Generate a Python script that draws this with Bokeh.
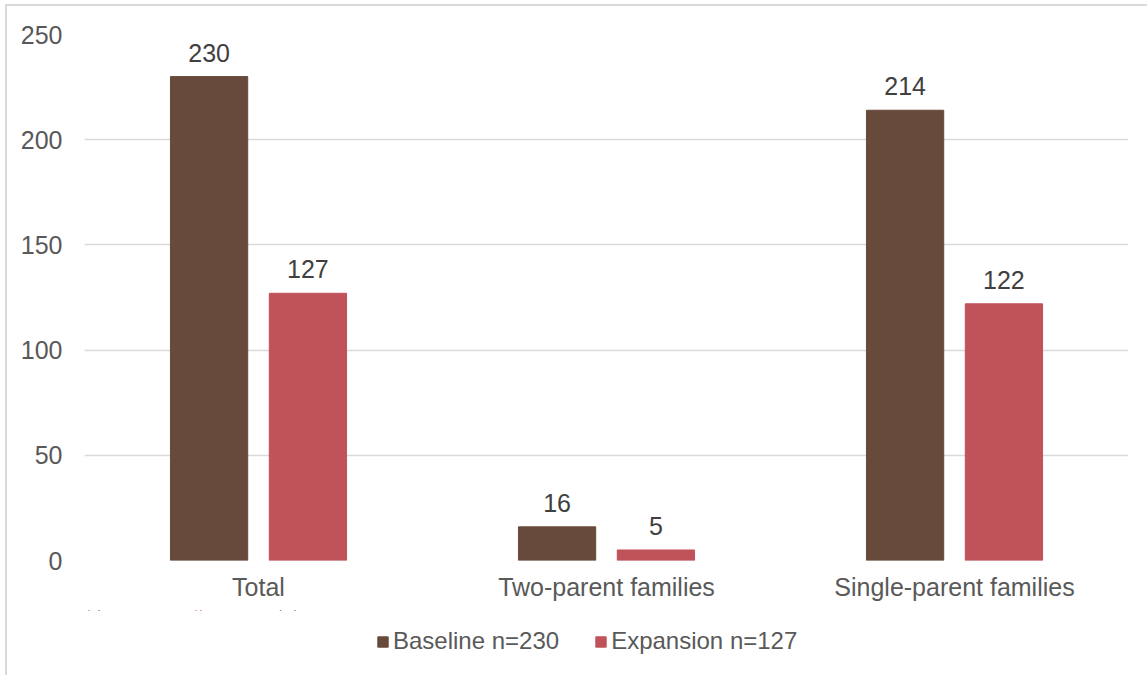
from bokeh.plotting import figure
from bokeh.layouts import column
from bokeh.models import (ColumnDataSource, FixedTicker, Legend, LegendItem, Range1d)
from bokeh.transform import dodge
from bokeh.core.properties import value
from bokeh.embed import file_html
from bokeh.resources import INLINE

categories = ["Total", "Two-parent families", "Single-parent families"]
baseline = [230, 16, 214]
expansion = [127, 5, 122]
y_ticks = [0, 50, 100, 150, 200, 250]
series_names = ["Baseline n=230", "Expansion n=127"]

BROWN = "#684A3C"
RED = "#C0535A"
FONT = "Liberation Sans"
W = 1140

src = ColumnDataSource(dict(
    cat=categories,
    base=baseline,
    exp=expansion,
    base_txt=[str(v) for v in baseline],
    exp_txt=[str(v) for v in expansion],
))

p = figure(
    frame_width=1044, frame_height=526,
    x_range=categories, y_range=Range1d(0, 250),
    output_backend="svg", toolbar_location=None,
    min_border_left=77, min_border_right=19,
    min_border_top=28, min_border_bottom=50,
)
p.x_range.range_padding = 0
p.outline_line_color = None
p.background_fill_color = "white"
p.border_fill_color = "white"

off = 0.142
bw = 0.222
p.vbar(x=dodge("cat", -off, range=p.x_range), top="base", width=bw,
       source=src, fill_color=BROWN, line_color=BROWN)
p.vbar(x=dodge("cat", off, range=p.x_range), top="exp", width=bw,
       source=src, fill_color=RED, line_color=RED)

for col, txt, dx in (("base", "base_txt", -off), ("exp", "exp_txt", off)):
    p.text(x=dodge("cat", dx, range=p.x_range), y=col, text=txt, source=src,
           text_align="center", text_baseline="alphabetic", y_offset=-24,
           text_font=value(FONT), text_font_size="25px", text_color="#404040")

# grid
p.xgrid.grid_line_color = None
p.ygrid.ticker = FixedTicker(ticks=y_ticks)
p.ygrid.grid_line_color = "#D9D9D9"
p.ygrid.grid_line_width = 1.5

# axes
p.yaxis.ticker = FixedTicker(ticks=y_ticks)
for ax in (p.xaxis[0], p.yaxis[0]):
    ax.axis_line_color = None
    ax.major_tick_line_color = None
    ax.minor_tick_line_color = None
    ax.major_tick_out = 0
    ax.major_tick_in = 0
    ax.major_label_text_font = FONT
    ax.major_label_text_font_size = "25px"
    ax.major_label_text_color = "#595959"
p.yaxis.major_label_standoff = 22
p.xaxis.major_label_standoff = 12

# legend strip under the chart; its series renderers are flat bars far
# outside the strip's visible y-range so only the legend swatches show
lf = figure(
    width=W, height=65, x_range=Range1d(0, W), y_range=Range1d(-100, -35),
    output_backend="svg", toolbar_location=None,
    x_axis_location=None, y_axis_location=None, min_border=0,
)
lf.outline_line_color = None
lf.xgrid.visible = False
lf.ygrid.visible = False
lb = lf.vbar(x="base", top="base", bottom="base", width=1, source=src,
             fill_color=BROWN, line_color=BROWN)
le = lf.vbar(x="exp", top="exp", bottom="exp", width=1, source=src,
             fill_color=RED, line_color=RED)

legend = Legend(
    items=[LegendItem(label=series_names[0], renderers=[lb]),
           LegendItem(label=series_names[1], renderers=[le])],
    orientation="horizontal", location=(292, 20),
    glyph_width=13, glyph_height=13, label_standoff=4, spacing=35,
    label_text_font=FONT, label_text_font_size="24px",
    label_text_color="#595959", border_line_color=None,
    background_fill_alpha=0, padding=0, margin=0,
)
lf.add_layout(legend, "center")

page = column(p, lf, spacing=0,
              styles={"margin-left": "5px", "margin-top": "4px",
                      "border-left": "2px solid #D9D9D9",
                      "border-top": "2px solid #D9D9D9"})

open("out.html", "w").write(file_html(page, INLINE))
